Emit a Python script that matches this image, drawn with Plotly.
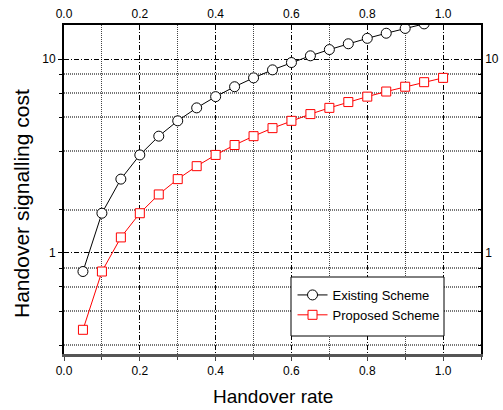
import plotly.graph_objects as go
import math

# ---- data ----
rate_existing = [0.05, 0.10, 0.15, 0.20, 0.25, 0.30, 0.35, 0.40, 0.45, 0.50,
                 0.55, 0.60, 0.65, 0.70, 0.75, 0.80, 0.85, 0.90, 0.95]
cost_existing = [0.8, 1.6, 2.4, 3.2, 4.0, 4.8, 5.6, 6.4, 7.2, 8.0,
                 8.8, 9.6, 10.4, 11.2, 12.0, 12.8, 13.6, 14.4, 15.2]
rate_proposed = [0.05, 0.10, 0.15, 0.20, 0.25, 0.30, 0.35, 0.40, 0.45, 0.50,
                 0.55, 0.60, 0.65, 0.70, 0.75, 0.80, 0.85, 0.90, 0.95, 1.00]
cost_proposed = [0.4, 0.8, 1.2, 1.6, 2.0, 2.4, 2.8, 3.2, 3.6, 4.0,
                 4.4, 4.8, 5.2, 5.6, 6.0, 6.4, 6.8, 7.2, 7.6, 8.0]
y_major_ticks = [1, 10]
y_major_text = ["1", "10"]
y_minor_ticks = [0.3333, 0.5, 0.6667, 0.8333, 1.6667, 3.3333, 5.0, 6.6667, 8.3333]
x_range = [0, 1.1]
y_range = [0.3, 15.0]

FONT = "Liberation Sans, Arial, sans-serif"
yr = [math.log10(y_range[0]), math.log10(y_range[1])]
MAJOR_DASH = "5px,2px,1px,2px"
MINOR_DASH = "1px,1px"

fig = go.Figure()
fig.add_trace(go.Scatter(
    x=rate_existing, y=cost_existing, name="Existing Scheme",
    mode="lines+markers",
    line=dict(color="black", width=1),
    marker=dict(symbol="circle", size=10, color="white",
                line=dict(color="black", width=1)),
))
fig.add_trace(go.Scatter(
    x=rate_proposed, y=cost_proposed, name="Proposed Scheme",
    mode="lines+markers",
    line=dict(color="#ff0000", width=1),
    marker=dict(symbol="square", size=9, color="white",
                line=dict(color="#ff0000", width=1)),
))
# helper (invisible) trace so the mirrored top/right axes are drawn
fig.add_trace(go.Scatter(
    x=rate_proposed, y=cost_proposed, xaxis="x2", yaxis="y2",
    mode="lines", opacity=0, showlegend=False, hoverinfo="skip",
))

fig.update_layout(
    width=503, height=410,
    margin=dict(l=64, r=22, t=25, b=56, autoexpand=False),
    paper_bgcolor="white", plot_bgcolor="white",
    font=dict(family=FONT, size=12, color="black"),
    showlegend=True,
    legend=dict(x=0.548, y=0.225, xanchor="left", yanchor="top",
                bgcolor="rgba(0,0,0,0)", borderwidth=0,
                tracegroupgap=0,
                font=dict(family=FONT, size=13, color="black")),
    shapes=[dict(type="rect", xref="paper", yref="paper",
                 x0=0.5444, x1=0.9113, y0=0.0547, y1=0.234,
                 fillcolor="white", line=dict(color="black", width=1),
                 layer="above")],
    xaxis=dict(
        range=x_range, dtick=0.2, tick0=0, tickformat=".1f",
        ticks="outside", ticklen=4, tickcolor="#444", automargin=False,
        showline=True, linecolor="#555", linewidth=3,
        zeroline=False,
        showgrid=True, gridcolor="black", griddash=MAJOR_DASH, gridwidth=1,
        minor=dict(dtick=0.1, tick0=0, ticks="outside", ticklen=3,
                   tickcolor="#444", showgrid=True, gridcolor="#444",
                   griddash=MINOR_DASH, gridwidth=1),
    ),
    xaxis2=dict(
        overlaying="x", side="top", anchor="y", automargin=False,
        range=x_range, dtick=0.2, tick0=0, tickformat=".1f",
        ticks="inside", ticklen=3, tickcolor="black",
        showline=True, linecolor="black", linewidth=1.5,
        showgrid=False, zeroline=False,
    ),
    yaxis=dict(
        type="log", range=yr, automargin=False,
        tickmode="array", tickvals=y_major_ticks, ticktext=y_major_text,
        ticks="outside", ticklen=4, tickcolor="black",
        showline=True, linecolor="black", linewidth=2,
        zeroline=False,
        showgrid=True, gridcolor="black", griddash=MAJOR_DASH, gridwidth=1,
        minor=dict(tickmode="array", tickvals=y_minor_ticks, ticks="outside",
                   ticklen=3, tickcolor="black", showgrid=True,
                   gridcolor="#777", griddash=MINOR_DASH, gridwidth=1.5),
    ),
    yaxis2=dict(
        type="log", range=yr, overlaying="y", side="right", anchor="x",
        automargin=False,
        tickmode="array", tickvals=y_major_ticks, ticktext=y_major_text,
        ticks="inside", ticklen=4, tickcolor="black",
        showline=True, linecolor="black", linewidth=1.5,
        showgrid=False, zeroline=False,
        minor=dict(tickmode="array", tickvals=y_minor_ticks, ticks="inside",
                   ticklen=3, tickcolor="black", showgrid=False),
    ),
    annotations=[
        dict(text="Handover rate", xref="paper", yref="paper",
             x=0.5, y=-0.13, xanchor="center", yanchor="middle",
             showarrow=False, font=dict(family=FONT, size=19)),
        dict(text="Handover signalling cost", xref="paper", yref="paper",
             x=-0.1007, y=0.456, xanchor="center", yanchor="middle",
             textangle=-90, showarrow=False,
             font=dict(family=FONT, size=21)),
    ],
)

fig.write_html("out.html",
               config={"displayModeBar": False},
               post_script="document.body.style.margin='0';")
